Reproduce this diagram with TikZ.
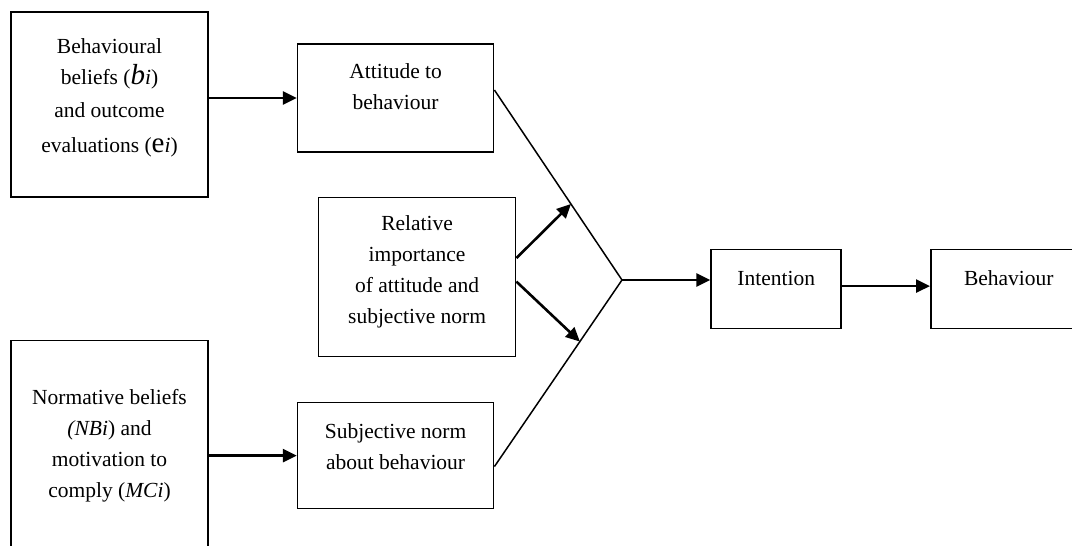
\documentclass[tikz,border=0pt]{standalone}
\usepackage{fontspec}
\setmainfont{Liberation Serif}
\usepackage{tikz}
\usetikzlibrary{
    arrows.meta,
    positioning,
    calc
}
\tikzstyle{stage} = [
    rectangle,
    draw=black,
    line width=1.6pt,
    inner sep=0pt
]
\tikzstyle{boxtext} = [
    align=center,
    inner sep=0pt,
    font=\fontsize{21.5}{31}\selectfont
]
\tikzstyle{arrow} = [
    -{Triangle[length=14pt,width=13pt]},
    line width=2.6pt
]
\tikzstyle{funnel} = [
    line width=1.5pt
]

\begin{document}
\begin{tikzpicture}[x=1pt, y=1pt]
        \useasboundingbox[fill=white] (0,0) rectangle (1072,546);

        % Beliefs
        \node[stage, minimum width=197pt, minimum height=185pt] (beh) at (109.5,441.5) {};
        \node[boxtext] (behtext) at ([yshift=7pt]beh.center) {Behavioural\\beliefs (\textit{\fontsize{29}{31}\selectfont b}\textit{i})\\[2pt]and outcome\\[4pt]evaluations ({\fontsize{29}{31}\selectfont e}\textit{i})};

        \node[stage, minimum width=197pt, minimum height=213pt, below=142pt of beh] (norm) {};
        \node[boxtext] (normtext) at ([yshift=1.5pt]norm.center) {Normative beliefs\\\textit{(NBi}) and\\motivation to\\comply (\textit{MCi})};

        % Attitude and subjective norm
        \node[stage, minimum width=196pt, minimum height=108pt, right=88pt of beh, yshift=6.5pt] (att) {};
        \node[boxtext] (atttext) at ([yshift=11pt]att.center) {Attitude to\\behaviour};
        \draw[arrow] (att.west -| beh.east) -- (att.west);

        \node[stage, minimum width=196pt, minimum height=106pt, right=88pt of norm, yshift=-8.5pt] (subj) {};
        \node[boxtext] (subjtext) at ([yshift=8.5pt]subj.center) {Subjective norm\\about behaviour};
        \draw[arrow] (subj.west -| norm.east) -- (subj.west);

        % Relative weights
        \node[stage, minimum width=197pt, minimum height=159pt, below=44pt of att, xshift=21.5pt] (rel) {};
        \node[boxtext] (reltext) at ([yshift=5pt]rel.center) {Relative\\importance\\of attitude and\\subjective norm};

        % Intention and behaviour
        \node[stage, minimum width=130pt, minimum height=79pt, right=194pt of rel, yshift=-12pt] (int) {};
        \node[boxtext] (inttext) at ([yshift=10.5pt]int.center) {Intention};

        \node[stage, minimum width=156pt, minimum height=79pt, right=88pt of int] (act) {};
        \node[boxtext] (acttext) at ([yshift=10.5pt]act.center) {Behaviour};

        % Funnel into intention
        \coordinate (apex) at (622,266);
        \coordinate (attout) at ([yshift=8pt]att.east);
        \coordinate (subjout) at ([yshift=-11pt]subj.east);
        \draw[funnel] (attout) -- (apex) -- (subjout);
        \draw[arrow] (apex) -- (apex -| int.west);
        \draw[arrow] ([yshift=3pt]int.east) -- ([yshift=3pt]act.west);

        \draw[arrow] ([yshift=19pt]rel.east) -- ($(attout)!0.6!(apex)$);
        \draw[arrow] ([yshift=-4.5pt]rel.east) -- ($(subjout)!0.67!(apex)$);
    \end{tikzpicture}
\end{document}
